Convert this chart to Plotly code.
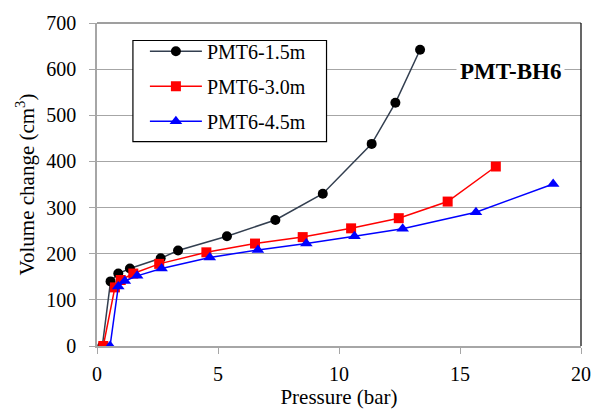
import plotly.graph_objects as go

# Data
x_15 = [0.22, 0.56, 0.88, 1.36, 2.63, 3.35, 5.37, 7.37, 9.33, 11.35, 12.33, 13.35]
y_15 = [0, 140, 157, 168, 190, 207, 238, 273, 330, 438, 527, 642]

x_30 = [0.26, 0.74, 0.98, 1.50, 2.57, 4.52, 6.53, 8.50, 10.50, 12.47, 14.49, 16.48]
y_30 = [0, 127, 143, 157, 178, 203, 222, 236, 255, 277, 313, 389]

x_45 = [0.54, 0.88, 1.15, 1.66, 2.67, 4.66, 6.65, 8.65, 10.64, 12.63, 15.66, 18.85]
y_45 = [0, 129, 141, 152, 168, 192, 208, 222, 238, 254, 290, 351]

names = ["PMT6-1.5m", "PMT6-3.0m", "PMT6-4.5m"]
x_ticks = [0, 5, 10, 15, 20]
y_ticks = [0, 100, 200, 300, 400, 500, 600, 700]

FONT = "Liberation Serif"
GRID = "#a6a6a6"

# plot area geometry (pixels) used to place paper-referenced items
L, R, T, B, W, H = 97, 21, 15, 64, 603, 411
PW, PH = W - L - R, H - T - B


def px_x(px):
    return (px - L) / PW


def px_y(py):
    return (H - B - py) / PH


fig = go.Figure()
fig.add_trace(go.Scatter(x=x_15, y=y_15, name=names[0], legendgroup="a", mode="lines+markers",
                         line=dict(color="#333f50", width=1.5),
                         marker=dict(symbol="circle", size=10, color="black")))
fig.add_trace(go.Scatter(x=x_30, y=y_30, name=names[1], legendgroup="b", mode="lines+markers",
                         line=dict(color="#ff0000", width=1.5),
                         marker=dict(symbol="square", size=10, color="#ff0000")))
fig.add_trace(go.Scatter(x=x_45, y=y_45, name=names[2], legendgroup="c", mode="lines+markers",
                         line=dict(color="#0000ff", width=1.5),
                         marker=dict(symbol="triangle-up", size=11, color="#0000ff")))

fig.update_layout(
    width=W, height=H,
    margin=dict(l=L, r=R, t=T, b=B),
    paper_bgcolor="white", plot_bgcolor="white",
    font=dict(family=FONT, size=20, color="black"),
    showlegend=True,
    legend=dict(x=px_x(145), y=px_y(24), xanchor="left", yanchor="top",
                bgcolor="rgba(0,0,0,0)", borderwidth=0,
                font=dict(family=FONT, size=20), tracegroupgap=6,
                traceorder="grouped", itemwidth=52),
    xaxis=dict(range=[0, 20], tickvals=x_ticks, showgrid=False,
               showline=True, linecolor=GRID, linewidth=1.5,
               ticks="outside", ticklen=6, tickcolor=GRID,
               zeroline=False, ticklabelstandoff=3,
               tickfont=dict(family=FONT, size=20),
               title=dict(text="Pressure (bar)", standoff=0,
                          font=dict(family=FONT, size=21))),
    yaxis=dict(range=[0, 700], tickvals=y_ticks, showgrid=True,
               gridcolor=GRID, gridwidth=1.2,
               showline=True, linecolor=GRID, linewidth=1.5,
               ticks="outside", ticklen=6, tickcolor=GRID,
               zeroline=False, ticklabelstandoff=9,
               tickfont=dict(family=FONT, size=20),
               title=dict(text="Volume change (cm<sup>3</sup>)", standoff=6,
                          font=dict(family=FONT, size=21))),
    shapes=[
        dict(type="line", xref="paper", yref="paper", x0=0, x1=1, y0=1, y1=1,
             line=dict(color="#404040", width=1.2)),
        dict(type="line", xref="paper", yref="paper", x0=1, x1=1, y0=0, y1=1,
             line=dict(color="black", width=1.2)),
        dict(type="rect", xref="paper", yref="paper", layer="above",
             x0=px_x(133), x1=px_x(327), y0=px_y(137), y1=px_y(33),
             fillcolor="white", line=dict(color="black", width=1.2)),
    ],
    annotations=[
        dict(x=17.07, y=595, xref="x", yref="y", text="<b>PMT-BH6</b>",
             showarrow=False, bgcolor="white", borderpad=3,
             font=dict(family=FONT, size=23, color="black")),
    ],
)

fig.write_html("out.html",
               config={"displayModeBar": False},
               post_script="document.body.style.margin='0';document.body.style.overflow='hidden';")
